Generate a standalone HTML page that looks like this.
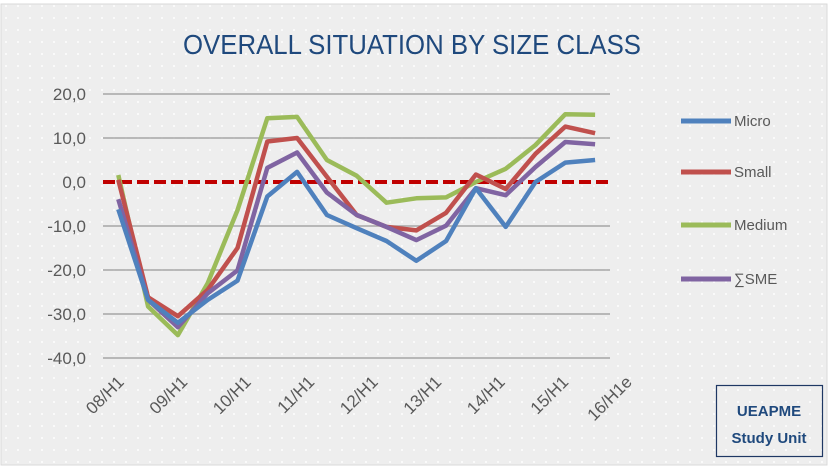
<!DOCTYPE html>
<html><head><meta charset="utf-8"><style>
html,body{margin:0;padding:0;}
body{width:828px;height:466px;overflow:hidden;background:#fff;}
</style></head><body>
<svg id="s" width="828" height="466" viewBox="0 0 828 466" xmlns="http://www.w3.org/2000/svg" font-family="Liberation Sans, sans-serif">
<defs>
<pattern id="dots" width="12" height="12" patternUnits="userSpaceOnUse">
<rect width="12" height="12" fill="#eeeeee"/><circle cx="6" cy="6" r="1" fill="#ffffff"/>
</pattern>
</defs>
<rect x="1" y="4" width="826" height="461" fill="url(#dots)" stroke="#d9d9d9" stroke-width="1"/>
<text x="412" y="54" text-anchor="middle" font-size="28" fill="#1f497d" textLength="458" lengthAdjust="spacingAndGlyphs">OVERALL SITUATION BY SIZE CLASS</text>
<g stroke="#a6a6a6" stroke-width="1.5">
<line x1="103" y1="94" x2="610" y2="94"/>
<line x1="103" y1="138" x2="610" y2="138"/>
<line x1="103" y1="226" x2="610" y2="226"/>
<line x1="103" y1="270" x2="610" y2="270"/>
<line x1="103" y1="314" x2="610" y2="314"/>
<line x1="103" y1="358" x2="610" y2="358"/>
</g>
<g font-size="17" fill="#595959" text-anchor="end">
<text x="86" y="100">20,0</text>
<text x="86" y="144">10,0</text>
<text x="86" y="188">0,0</text>
<text x="86" y="232">-10,0</text>
<text x="86" y="276">-20,0</text>
<text x="86" y="320">-30,0</text>
<text x="86" y="364">-40,0</text>
</g>
<line x1="103" y1="182" x2="610" y2="182" stroke="#c00000" stroke-width="4" stroke-dasharray="12,5"/>
<g id="series" fill="none" stroke-width="4.5" stroke-linejoin="round"></g>
<g id="xl" font-size="17" fill="#595959" text-anchor="end"></g>
<g stroke-width="5">
<line x1="681" y1="121" x2="731" y2="121" stroke="#4f81bd"/>
<line x1="681" y1="172" x2="731" y2="172" stroke="#c0504d"/>
<line x1="681" y1="225" x2="731" y2="225" stroke="#9bbb59"/>
<line x1="681" y1="279" x2="731" y2="279" stroke="#8064a2"/>
</g>
<g font-size="15" fill="#595959">
<text x="734" y="126">Micro</text>
<text x="734" y="177">Small</text>
<text x="734" y="230">Medium</text>
<text x="734" y="284">∑SME</text>
</g>
<rect x="716.5" y="385.5" width="106" height="71" fill="none" stroke="#1f3864" stroke-width="1.2"/>
<g font-size="15" font-weight="bold" fill="#1f497d" text-anchor="middle">
<text x="769" y="416">UEAPME</text>
<text x="769" y="443">Study Unit</text>
</g>
</svg>
<script>
var data={
"#9bbb59":[1.6,-28.3,-34.8,-23,-6.4,14.5,14.8,5,1.4,-4.7,-3.7,-3.5,0,3,8.4,15.4,15.3],
"#c0504d":[0.5,-26.2,-30.5,-24.5,-15,9.2,10,1.2,-7.5,-10.2,-11,-7,1.7,-1.6,6.4,12.6,11.1],
"#8064a2":[-3.9,-26.8,-33,-25.3,-20.1,3.2,6.7,-2.4,-7.5,-10.2,-13.2,-9.9,-1.4,-3,3.4,9.1,8.6],
"#4f81bd":[-6.2,-26.8,-32,-26.8,-22.4,-3.3,2.3,-7.5,-10.5,-13.4,-17.9,-13.4,-1.4,-10.2,0,4.4,5]};
var ns="http://www.w3.org/2000/svg",g=document.getElementById("series");
["#9bbb59","#c0504d","#8064a2","#4f81bd"].forEach(function(c){
var p=data[c].map(function(v,i){return (118.3+29.8*i).toFixed(1)+","+(182-4.4*v).toFixed(1)}).join(" ");
var e=document.createElementNS(ns,"polyline");e.setAttribute("points",p);e.setAttribute("stroke",c);g.appendChild(e);});
var labs=["08/H1","09/H1","10/H1","11/H1","12/H1","13/H1","14/H1","15/H1","16/H1e"],xl=document.getElementById("xl");
labs.forEach(function(l,i){var x=125+63.5*i,y=383;var t=document.createElementNS(ns,"text");
t.setAttribute("x",x);t.setAttribute("y",y);t.setAttribute("transform","rotate(-45 "+x+" "+y+")");t.textContent=l;xl.appendChild(t);});
</script>
</body></html>
